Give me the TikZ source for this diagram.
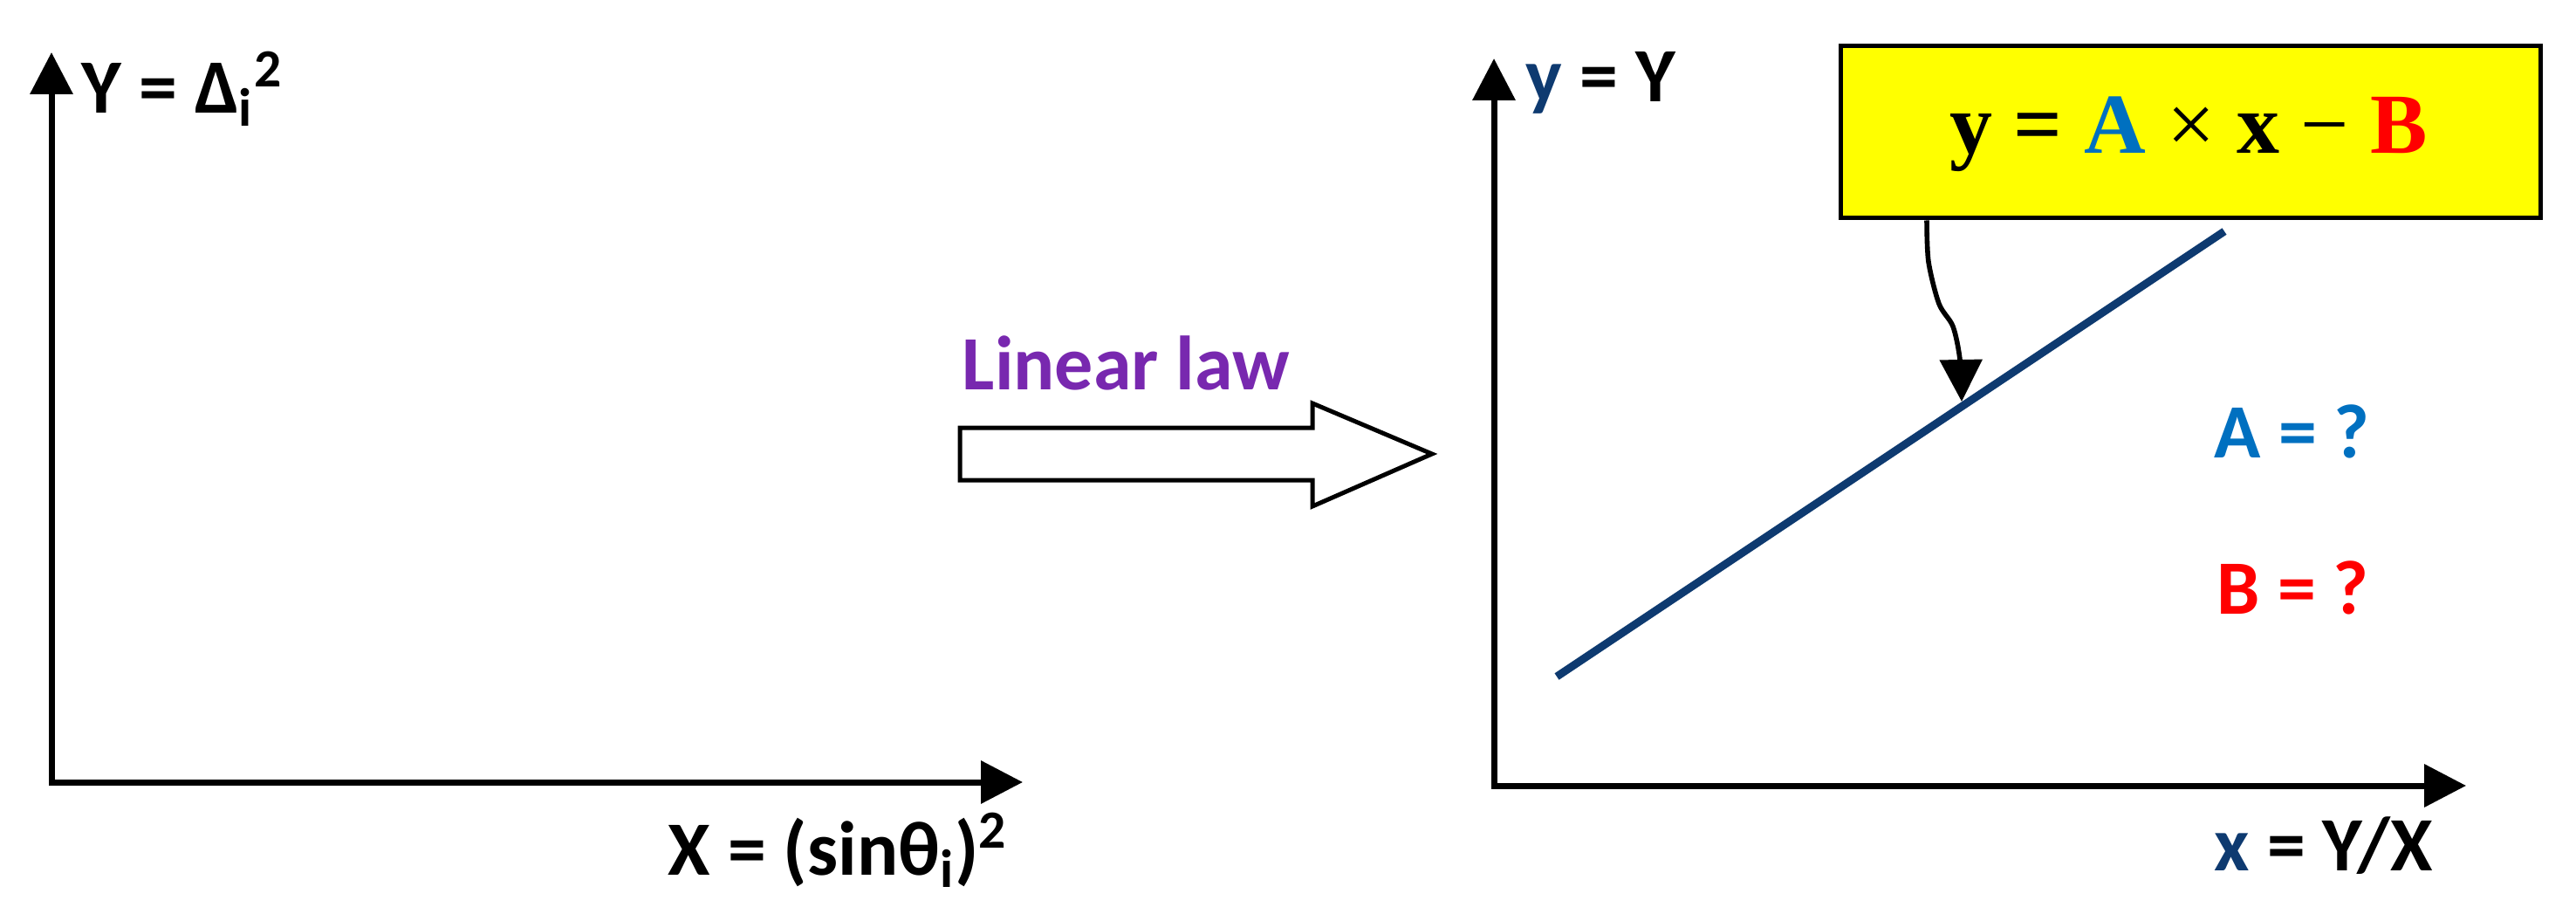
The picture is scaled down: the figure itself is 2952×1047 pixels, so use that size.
\documentclass[tikz,border=0pt]{standalone}
\usepackage{fontspec}
\setmainfont{Carlito}
\newfontfamily\eqfont{Liberation Serif}
\usetikzlibrary{arrows.meta}
\definecolor{navy}{RGB}{14,58,112}
\definecolor{eqblue}{RGB}{0,112,192}
\definecolor{eqred}{RGB}{255,0,0}
\definecolor{lawpurple}{RGB}{120,40,175}
\definecolor{boxyellow}{RGB}{255,255,0}
\tikzset{
  lab/.style={anchor=base west, inner sep=0pt, font=\fontsize{22}{26}\selectfont\bfseries},
  axis/.style={line width=1.75pt, line join=miter,
    {Triangle[length=12pt,width=12pt]}-{Triangle[length=12pt,width=12pt]}},
  eqbox/.style={draw=black, line width=1.25pt, fill=boxyellow, minimum width=200.5pt, minimum height=49.25pt, inner sep=0pt},
  callout/.style={line width=1.4pt, line join=round, -{Triangle[length=12pt,width=12pt]}},
  fitline/.style={draw=navy, line width=2.25pt},
  blockarrow/.style={draw=black, line width=1.25pt, fill=white, line join=miter}
}
\begin{document}
\begin{tikzpicture}[x=0.25pt,y=-0.25pt]
\useasboundingbox (0,0) rectangle (2952,1047);

% left axes
\coordinate (Ltop) at (59,60);
\coordinate (Lright) at (1172,896);
\draw[axis] (Ltop) |- (Lright);
\node[lab] (ylabL) at (93,130) {Y = Δ\textsubscript{i}\textsuperscript{2}};
\node[lab] (xlabL) at (765,1002) {X = (sinθ\textsubscript{i})\textsuperscript{2}};

% middle block arrow
\node[lab, text=lawpurple] (law) at (1102,447) {Linear law};
\draw[blockarrow] (1100,490) -- (1504,490) -- (1504,462) -- (1641,520) -- (1504,580) -- (1504,550) -- (1100,550) -- cycle;

% right axes
\coordinate (Rtop) at (1712,67);
\coordinate (Rright) at (2826,900);
\draw[axis] (Rtop) |- (Rright);
\node[lab] (ylabR) at (1748,117) {\textcolor{navy}{y} = Y};
\node[lab] (xlabR) at (2537,997) {\textcolor{navy}{x} = Y/X};

% fitted line
\coordinate (L1) at (1784,775);
\coordinate (L2) at (2549,265);
\draw[fitline] (L1) -- (L2);

% equation box
\node[eqbox] (eq) at (2510,151.5) {};
\node[anchor=base, inner sep=0pt, font=\eqfont\fontsize{24.5}{28}\selectfont\bfseries] (eqtext) at (2508,176)
  {y = \textcolor{eqblue}{A} {\mdseries ×} x {\mdseries −} \textcolor{eqred}{B}};

% callout
\coordinate (cstart) at (eq.south -| 2208,0);
\coordinate (ctip) at (2248,460);
\draw[callout] plot[smooth, tension=0.5] coordinates {(cstart) (2210,300) (2222,348) (2238,374) (2246,412) (ctip)};

% unknowns
\node[lab, text=eqblue] (Aq) at (2537,525) {A = ?};
\node[lab, text=eqred] (Bq) at (2540,703) {B = ?};
\end{tikzpicture}
\end{document}
